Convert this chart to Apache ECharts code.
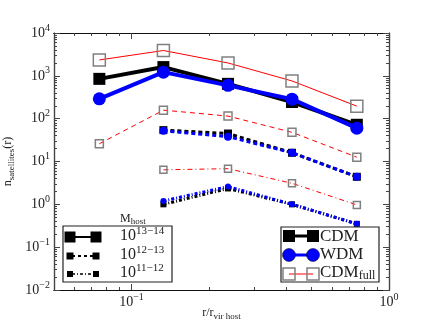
<!DOCTYPE html>
<html lang="en">
<head>
    <meta charset="UTF-8">
    <title>satellites</title>
    <script type="text/javascript" src="https://cdn.jsdelivr.net/npm/echarts@6/dist/echarts.min.js"></script>
    <style>
        html, body { margin: 0; padding: 0; background: #fff; }
        #chart { width: 432px; height: 324px; }
    </style>
</head>
<body>
<div id="chart"></div>
<script type="text/javascript">
    // radial bins, r / r_vir host
    var radii = [0.075, 0.133, 0.237, 0.42, 0.75];

    // host mass 10^13-14
    var cdmHi  = [850, 1600, 650, 245, 72];
    var wdmHi  = [290, 1220, 600, 285, 60];
    var fullHi = [2350, 3900, 2000, 760, 196];
    // host mass 10^12-13
    var cdmMid  = [null, 54, 45, 16, 4.4];
    var wdmMid  = [null, 52, 38, 16, 4.4];
    var fullMid = [26, 158, 115, 48, 12.6];
    // host mass 10^11-12
    var cdmLo  = [null, 1.0, 2.35, 1.0, 0.35];
    var wdmLo  = [null, 1.2, 2.6, 1.0, 0.35];
    var fullLo = [null, 6.4, 6.8, 3.1, 0.97];

    var xMajor = [0.1, 1];
    var yMajor = [0.01, 0.1, 1, 10, 100, 1000, 10000];

    var FONT = 'Liberation Serif';
    var BLUE = '#0000ff';

    function pairs(vals) {
        var out = [];
        for (var i = 0; i < vals.length; i++) {
            if (vals[i] != null) out.push([radii[i], vals[i]]);
        }
        return out;
    }

    function minors(lo, hi) {
        var out = [];
        for (var d = lo; d < hi; d++) {
            for (var k = 2; k <= 9; k++) out.push(k * Math.pow(10, d));
        }
        return out;
    }
    var xMinor = minors(-2, 0).filter(function (v) { return v > 0.05 && v < 1; });
    var yMinor = minors(-2, 4);

    function powLabel(v) {
        var e = Math.round(Math.log10(v));
        return '{b|10}{s|' + String(e).replace('-', '\u2212') + '}';
    }
    // superscript / subscript helpers: small token gets its own short lineHeight
    function supRich(big, small, lh, color) {
        return {
            b: { fontFamily: FONT, fontSize: big, color: color, fill: color, lineHeight: lh },
            s: { fontFamily: FONT, fontSize: small, color: color, fill: color, lineHeight: small, verticalAlign: 'top' }
        };
    }
    function subRich(big, small, lh, color) {
        return {
            n: { fontFamily: FONT, fontSize: big, color: color, fill: color, lineHeight: lh },
            sub: { fontFamily: FONT, fontSize: small, color: color, fill: color, lineHeight: small, verticalAlign: 'bottom' }
        };
    }
    var powRich = supRich(14, 10, 20, '#222');

    function xAx(pos, ticks, len, labels, extra) {
        var a = {
            type: 'log', logBase: 10, min: 0.05, max: 1, position: pos,
            axisLine: { show: true, onZero: false, lineStyle: { color: '#111', width: 1.2 } },
            axisTick: { show: true, inside: true, length: len, customValues: ticks, lineStyle: { color: '#444' } },
            axisLabel: labels ? { show: true, customValues: xMajor, formatter: powLabel, rich: powRich, margin: 2 } : { show: false },
            splitLine: { show: false }
        };
        return Object.assign(a, extra || {});
    }
    function yAx(pos, ticks, len, labels, extra) {
        var a = {
            type: 'log', logBase: 10, min: 0.01, max: 10000, position: pos,
            axisLine: { show: true, onZero: false, lineStyle: { color: '#444', width: 1.2 } },
            axisTick: { show: true, inside: true, length: len, customValues: ticks, lineStyle: { color: '#444' } },
            axisLabel: labels ? { show: true, customValues: yMajor, formatter: powLabel, rich: powRich, margin: 4 } : { show: false },
            splitLine: { show: false }
        };
        return Object.assign(a, extra || {});
    }

    function line(name, vals, color, width, dash, symbol, size, z, fill, border) {
        return {
            name: name, type: 'line', data: pairs(vals), z: z,
            symbol: symbol, symbolSize: size,
            lineStyle: { color: color, width: width, type: dash },
            itemStyle: { color: fill, borderColor: border, borderWidth: border ? 1.5 : 0 },
            emphasis: { disabled: true },
            animation: false
        };
    }

    var mychart = echarts.init(document.getElementById('chart'), null, { renderer: 'canvas' });

    var option = {
        backgroundColor: '#fff',
        grid: { left: 54, right: 43, top: 33, bottom: 34, containLabel: false, outerBoundsMode: 'none' },
        xAxis: [
            xAx('bottom', xMajor, 6, true, {
                name: '{n|r/r}{sub|vir host}', nameLocation: 'middle', nameGap: 15, nameMoveOverlap: false,
                nameTextStyle: { rich: subRich(12, 9, 16, '#222') }
            }),
            xAx('bottom', xMinor, 3, false),
            xAx('top', xMajor, 6, false),
            xAx('top', xMinor, 3, false)
        ],
        yAxis: [
            yAx('left', yMajor, 6, true, {
                name: '{n|n}{sub|satellites}{n|(r)}', nameLocation: 'middle', nameGap: 38, nameRotate: 90, nameMoveOverlap: false,
                nameTextStyle: { rich: subRich(12, 9, 16, '#222') }
            }),
            yAx('left', yMinor, 3, false),
            yAx('right', yMajor, 6, false),
            yAx('right', yMinor, 3, false)
        ],
        series: [
            line('CDM 13-14', cdmHi, '#000', 4, 'solid', 'rect', 12, 2, '#000'),
            line('CDM 12-13', cdmMid, '#000', 3, [4, 3], 'rect', 8, 2, '#000'),
            line('CDM 11-12', cdmLo, '#000', 3, [3, 2, 1, 2], 'rect', 6, 2, '#000'),
            line('WDM 13-14', wdmHi, BLUE, 4, 'solid', 'circle', 13, 3, BLUE),
            line('WDM 12-13', wdmMid, BLUE, 3, [4, 3], 'circle', 8, 3, BLUE),
            line('WDM 11-12', wdmLo, BLUE, 3, [3, 2, 1, 2], 'circle', 6, 3, BLUE),
            line('CDM full 13-14', fullHi, '#ff0000', 1, 'solid', 'rect', 12, 4, 'rgba(255,255,255,0)', '#808080'),
            line('CDM full 12-13', fullMid, '#ff0000', 1, [5, 4], 'rect', 8, 4, 'rgba(255,255,255,0)', '#808080'),
            line('CDM full 11-12', fullLo, '#ff0000', 1, [5, 3, 1, 3], 'rect', 7, 4, 'rgba(255,255,255,0)', '#808080')
        ],
        graphic: [
            // mass legend
            { type: 'text', left: 120, top: 213, style: { text: '{n|M}{sub|host}', rich: subRich(12, 9, 14, '#222') }, z: 10 },
            { type: 'rect', shape: { x: 63, y: 226, width: 109, height: 56 }, style: { fill: '#fff', stroke: '#222', lineWidth: 1.2 }, z: 10 },
            { type: 'line', shape: { x1: 70, y1: 237, x2: 96, y2: 237 }, style: { stroke: '#000', lineWidth: 2 }, z: 11 },
            { type: 'rect', shape: { x: 64.5, y: 231.5, width: 11, height: 11 }, style: { fill: '#000' }, z: 11 },
            { type: 'rect', shape: { x: 90.5, y: 231.5, width: 11, height: 11 }, style: { fill: '#000' }, z: 11 },
            { type: 'line', shape: { x1: 72, y1: 256, x2: 94, y2: 256 }, style: { stroke: '#000', lineWidth: 2, lineDash: [3, 3] }, z: 11 },
            { type: 'rect', shape: { x: 66.5, y: 252.5, width: 7, height: 7 }, style: { fill: '#000' }, z: 11 },
            { type: 'rect', shape: { x: 92.5, y: 252.5, width: 7, height: 7 }, style: { fill: '#000' }, z: 11 },
            { type: 'line', shape: { x1: 72, y1: 274, x2: 94, y2: 274 }, style: { stroke: '#000', lineWidth: 1.5, lineDash: [3, 2, 1, 2] }, z: 11 },
            { type: 'rect', shape: { x: 67, y: 271, width: 6, height: 6 }, style: { fill: '#000' }, z: 11 },
            { type: 'rect', shape: { x: 93, y: 271, width: 6, height: 6 }, style: { fill: '#000' }, z: 11 },
            { type: 'text', left: 120, top: 226, style: { text: '{b|10}{s|13\u221214}', rich: supRich(16, 11, 20, '#222') }, z: 11 },
            { type: 'text', left: 120, top: 245, style: { text: '{b|10}{s|12\u221213}', rich: supRich(16, 11, 20, '#222') }, z: 11 },
            { type: 'text', left: 120, top: 263, style: { text: '{b|10}{s|11\u221212}', rich: supRich(16, 11, 20, '#222') }, z: 11 },

            // model legend
            { type: 'rect', shape: { x: 281, y: 227, width: 98, height: 55 }, style: { fill: '#fff', stroke: '#222', lineWidth: 1.2 }, z: 10 },
            { type: 'line', shape: { x1: 289, y1: 236, x2: 313, y2: 236 }, style: { stroke: '#000', lineWidth: 3 }, z: 11 },
            { type: 'rect', shape: { x: 283, y: 230, width: 12, height: 12 }, style: { fill: '#000' }, z: 11 },
            { type: 'rect', shape: { x: 307, y: 230, width: 12, height: 12 }, style: { fill: '#000' }, z: 11 },
            { type: 'text', left: 320, top: 228, style: { text: 'CDM', fontFamily: FONT, fontSize: 17, fill: '#222' }, z: 11 },
            { type: 'line', shape: { x1: 289, y1: 255, x2: 313, y2: 255 }, style: { stroke: BLUE, lineWidth: 3 }, z: 11 },
            { type: 'circle', shape: { cx: 289, cy: 255, r: 6.5 }, style: { fill: BLUE, stroke: '#000', lineWidth: 0.5 }, z: 11 },
            { type: 'circle', shape: { cx: 313, cy: 255, r: 6.5 }, style: { fill: BLUE, stroke: '#000', lineWidth: 0.5 }, z: 11 },
            { type: 'text', left: 320, top: 246, style: { text: 'WDM', fontFamily: FONT, fontSize: 17, fill: '#222' }, z: 11 },
            { type: 'line', shape: { x1: 289, y1: 274, x2: 313, y2: 274 }, style: { stroke: '#ff0000', lineWidth: 1 }, z: 11 },
            { type: 'rect', shape: { x: 283, y: 268, width: 12, height: 12 }, style: { fill: 'none', stroke: '#808080', lineWidth: 1.5 }, z: 11 },
            { type: 'rect', shape: { x: 307, y: 268, width: 12, height: 12 }, style: { fill: 'none', stroke: '#808080', lineWidth: 1.5 }, z: 11 },
            { type: 'text', left: 320, top: 264, style: { text: '{n|CDM}{sub|full}', rich: subRich(17, 12, 19, '#222') }, z: 11 }
        ]
    };
    mychart.setOption(option);
</script>
</body>
</html>
